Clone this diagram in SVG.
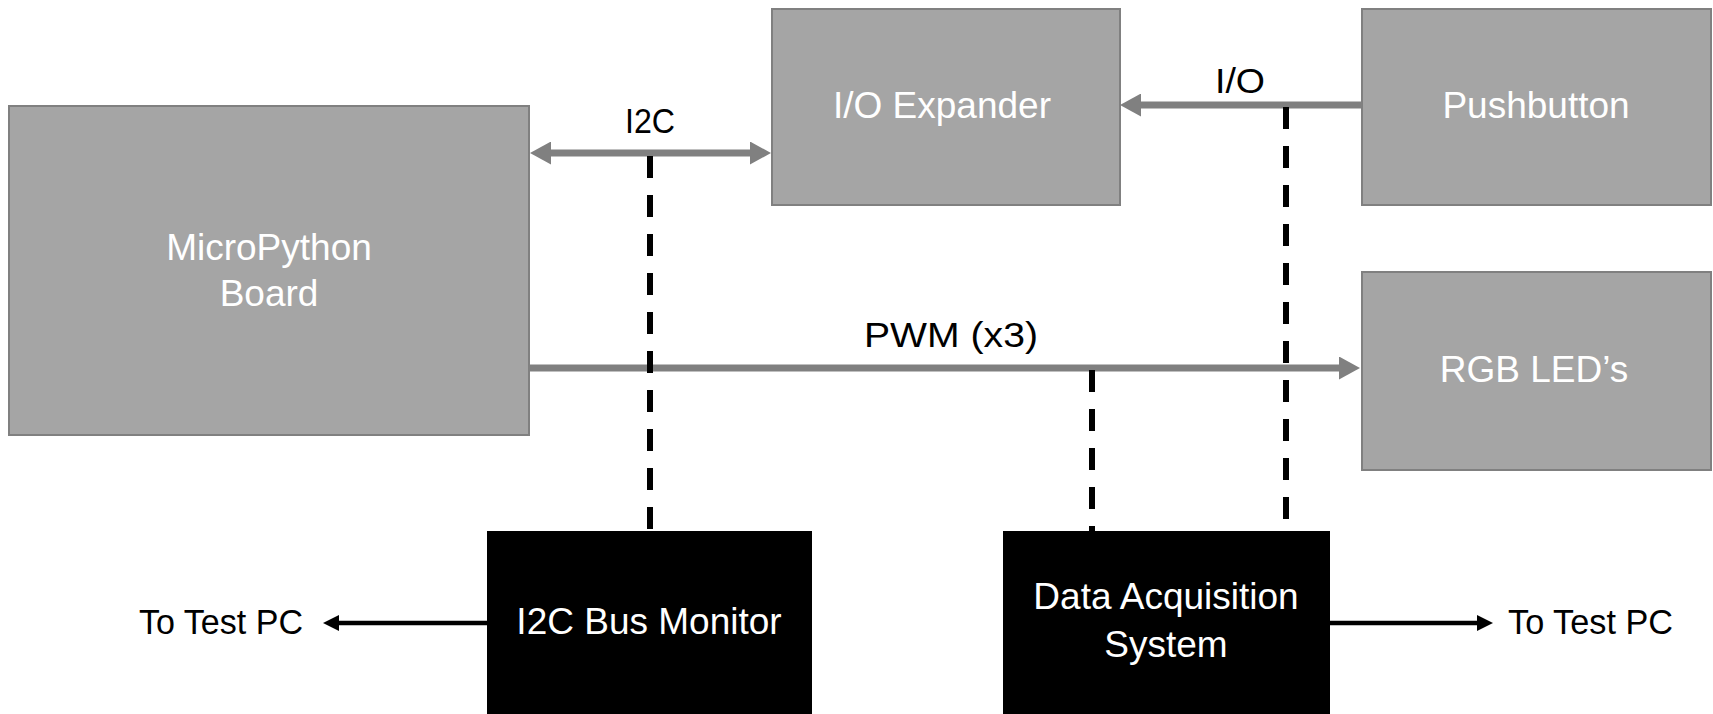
<svg xmlns="http://www.w3.org/2000/svg" width="1713" height="714" viewBox="0 0 1713 714">
<style>
.gbox{fill:#a5a5a5;stroke:#808080;stroke-width:2}
.kbox{fill:#000}
.wt{fill:#fff;font-family:"Liberation Sans",Arial,sans-serif;font-size:37px;text-anchor:middle}
.lbl{fill:#000;font-family:"Liberation Sans",Arial,sans-serif;font-size:35px}
.gl{stroke:#808080;stroke-width:7;fill:none}
.bl{stroke:#000;stroke-width:4.5;fill:none}
.dl{stroke:#000;stroke-width:6;stroke-dasharray:22 17;fill:none}
</style>
<defs>
<marker id="ga" viewBox="0 0 21 23" markerWidth="21" markerHeight="23" refX="8" refY="11.5" orient="auto-start-reverse" markerUnits="userSpaceOnUse">
<path d="M0,0 L21,11.5 L0,23 z" fill="#808080"/>
</marker>
<marker id="ba" viewBox="0 0 16 16" markerWidth="16" markerHeight="16" refX="6" refY="8" orient="auto-start-reverse" markerUnits="userSpaceOnUse">
<path d="M0,0 L16,8 L0,16 z" fill="#000"/>
</marker>
</defs>
<rect width="1713" height="714" fill="#fff"/>
<g id="connectors">
<line class="gl" x1="543" y1="153" x2="758" y2="153" marker-start="url(#ga)" marker-end="url(#ga)"/>
<line class="gl" x1="1362" y1="105" x2="1133" y2="105" marker-end="url(#ga)"/>
<line class="gl" x1="529" y1="368" x2="1347" y2="368" marker-end="url(#ga)"/>
<line class="dl" x1="650" y1="156" x2="650" y2="531"/>
<line class="dl" x1="1092" y1="370" x2="1092" y2="531"/>
<line class="dl" x1="1286" y1="107" x2="1286" y2="531"/>
<line class="bl" x1="487" y1="623" x2="333" y2="623" marker-end="url(#ba)"/>
<line class="bl" x1="1330" y1="623" x2="1483" y2="623" marker-end="url(#ba)"/>
<text class="lbl" x="650" y="133" text-anchor="middle" textLength="50" lengthAdjust="spacingAndGlyphs">I2C</text>
<text class="lbl" x="1240" y="93" text-anchor="middle" textLength="50" lengthAdjust="spacingAndGlyphs">I/O</text>
<text class="lbl" x="951" y="347" text-anchor="middle" textLength="174" lengthAdjust="spacingAndGlyphs">PWM (x3)</text>
<text class="lbl" x="139" y="634" textLength="164" lengthAdjust="spacingAndGlyphs">To Test PC</text>
<text class="lbl" x="1508" y="634" textLength="165" lengthAdjust="spacingAndGlyphs">To Test PC</text>
</g>
<g id="micropython">
<rect class="gbox" x="9" y="106" width="520" height="329"/>
<text class="wt" x="269" y="260">MicroPython</text>
<text class="wt" x="269" y="306">Board</text>
</g>
<g id="ioexpander">
<rect class="gbox" x="772" y="9" width="348" height="196"/>
<text class="wt" x="942" y="118">I/O Expander</text>
</g>
<g id="pushbutton">
<rect class="gbox" x="1362" y="9" width="349" height="196"/>
<text class="wt" x="1536" y="118">Pushbutton</text>
</g>
<g id="rgbleds">
<rect class="gbox" x="1362" y="272" width="349" height="198"/>
<text class="wt" x="1534" y="382">RGB LED’s</text>
</g>
<g id="i2cmonitor">
<rect class="kbox" x="487" y="531" width="325" height="190"/>
<text class="wt" x="649" y="634">I2C Bus Monitor</text>
</g>
<g id="daq">
<rect class="kbox" x="1003" y="531" width="327" height="190"/>
<text class="wt" x="1166" y="609">Data Acquisition</text>
<text class="wt" x="1166" y="657">System</text>
</g>
</svg>
